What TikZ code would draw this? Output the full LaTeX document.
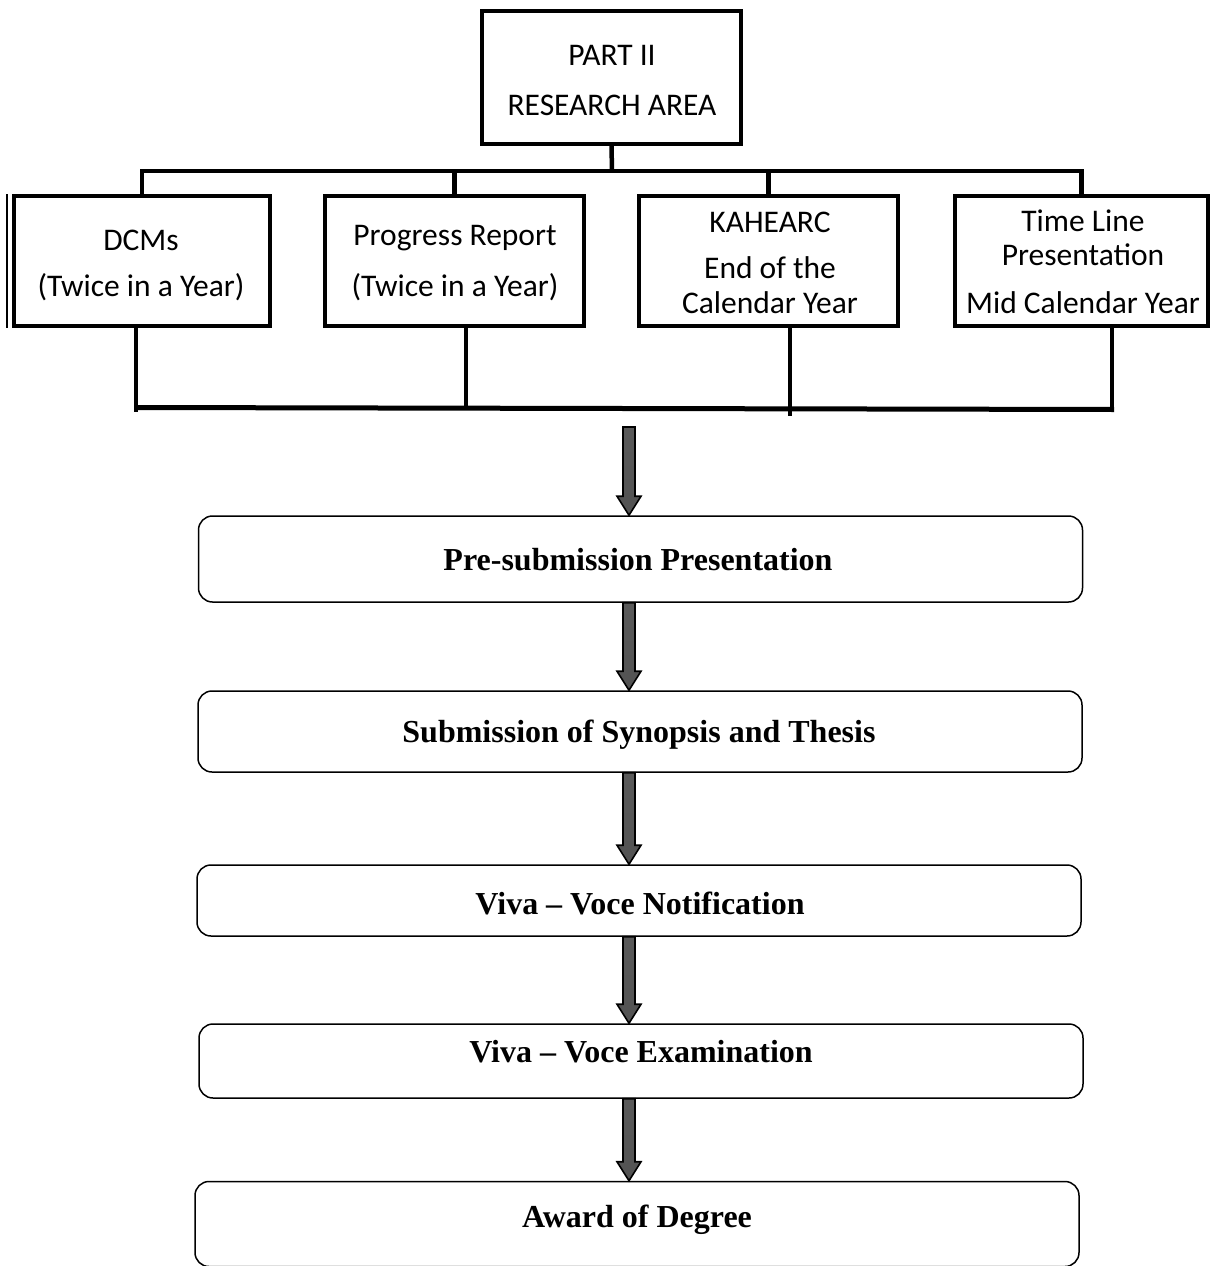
\documentclass[tikz,border=0pt]{standalone}
\usepackage{fontspec}
\setmainfont{Liberation Serif}
\newfontfamily\calfont{Carlito}
\usetikzlibrary{calc}
\tikzset{
  sqbox/.style={draw=black, line width=4pt, rectangle, inner sep=0pt},
  rbox/.style={draw=black, line width=1.5pt, rectangle, rounded corners=14pt, inner sep=0pt, minimum width=884pt},
  conn/.style={draw=black, line width=4.5pt},
  caltext/.style={font=\calfont\fontsize{31.5}{36}\selectfont, inner sep=0pt, anchor=center},
  flowtext/.style={font=\bfseries\fontsize{32}{36}\selectfont, inner sep=0pt, anchor=center},
  fatarrow/.style={draw=black, line width=1.6pt, line join=miter, top color=gray!70!black, middle color=black!90, bottom color=gray!65!black}
}
\begin{document}
\begin{tikzpicture}[x=1pt,y=-1pt]
\useasboundingbox (0,0) rectangle (1213,1266);
% top box
\node[sqbox, minimum width=259pt, minimum height=133pt] (top) at (611.5,77.5) {};
\node[caltext] (t1) at (612,55) {PART II};
\node[caltext] (t2) at (612,105) {RESEARCH AREA};
% child boxes
\node[sqbox, minimum width=256pt, minimum height=130pt] (c1) at (142,261) {};
\node[sqbox, minimum width=259pt, minimum height=130pt] (c2) at (454.5,261) {};
\node[sqbox, minimum width=259pt, minimum height=130pt] (c3) at (768.5,261) {};
\node[sqbox, minimum width=253pt, minimum height=130pt] (c4) at (1081.5,261) {};
\draw[line width=1.2pt] ([xshift=-5pt]c1.north west) -- ([xshift=-5pt]c1.south west);
\node[caltext] (c1a) at (141,240) {DCMs};
\node[caltext] (c1b) at (141,287) {(Twice in a Year)};
\node[caltext] (c2a) at (455,238) {Progress Report};
\node[caltext] (c2b) at (455,287) {(Twice in a Year)};
\node[caltext] (c3a) at (770,222) {KAHEARC};
\node[caltext] (c3b) at (770,268) {End of the};
\node[caltext] (c3c) at (770,303) {Calendar Year};
\node[caltext] (c4a) at (1083,221) {Time Line};
\node[caltext] (c4b) at (1083,255) {Presentation};
\node[caltext] (c4c) at (1083,303) {Mid Calendar Year};
% top bracket
\coordinate (hb) at (612,171);
\draw[conn] (top.south) -- (hb);
\draw[conn, line cap=rect] (c1.north |- hb) -- (c4.north |- hb);
\draw[conn] (c1.north |- hb) -- (c1.north);
\draw[conn] (c2.north |- hb) -- (c2.north);
\draw[conn] (c3.north |- hb) -- (c3.north);
\draw[conn] (c4.north |- hb) -- (c4.north);
% bottom bracket
\coordinate (b1) at (136,412);
\coordinate (b2) at (466,408);
\coordinate (b3) at (790,416);
\coordinate (b4) at (1112,408);
\coordinate (bl) at (136,407.5);
\coordinate (br) at (1114,409.5);
\draw[conn] (b1 |- c1.south) -- (b1);
\draw[conn] (b2 |- c2.south) -- (b2);
\draw[conn] (b3 |- c3.south) -- (b3);
\draw[conn] (b4 |- c4.south) -- (b4);
\draw[line width=5pt] (bl) -- (br);
% flow boxes
\node[rbox, minimum height=86pt] (n1) at (640.5,559) {};
\node[rbox, minimum height=81pt] (n2) at (640,731.5) {};
\node[rbox, minimum height=71pt] (n3) at (639,900.5) {};
\node[rbox, minimum height=74pt] (n4) at (641,1061) {};
\node[rbox, minimum height=85pt] (n5) at (637,1224) {};
\node[flowtext] (n1t) at (638,560) {Pre-submission Presentation};
\node[flowtext] (n2t) at (639,735) {Submission of Synopsis and Thesis};
\node[flowtext] (n3t) at (640,903) {Viva -- Voce Notification};
\node[flowtext] (n4t) at (641,1052) {Viva -- Voce Examination};
\node[flowtext] (n5t) at (637,1220) {Award of Degree};
% fat arrows
\coordinate (a0) at (629,427);
\newcommand\FatArrow[2]{%
  \path[fatarrow] let \p1=(#1), \p2=(#2) in
    (\x1-6pt,\y1) -- (\x1+6pt,\y1) -- (\x1+6pt,\y2+19pt) -- (\x1+12pt,\y2+19pt)
    -- (\x1,\y2) -- (\x1-12pt,\y2+19pt) -- (\x1-6pt,\y2+19pt) -- cycle;}
\FatArrow{a0}{a0 |- n1.north}
\FatArrow{a0 |- n1.south}{a0 |- n2.north}
\FatArrow{a0 |- n2.south}{a0 |- n3.north}
\FatArrow{a0 |- n3.south}{a0 |- n4.north}
\FatArrow{a0 |- n4.south}{a0 |- n5.north}
\end{tikzpicture}
\end{document}
